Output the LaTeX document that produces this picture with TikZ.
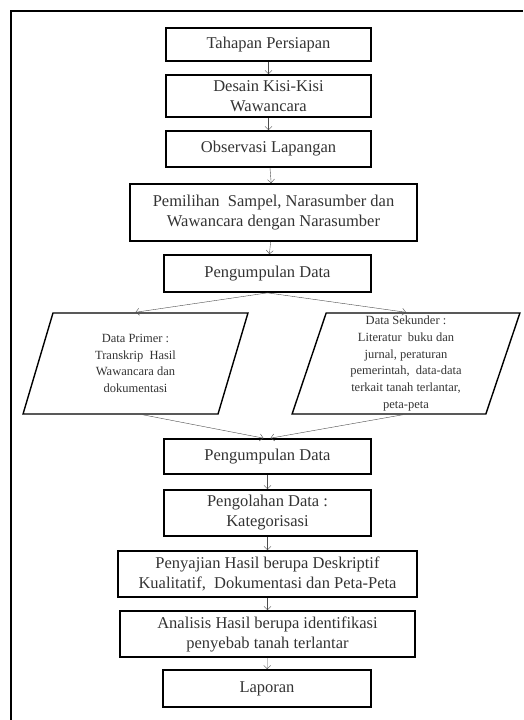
\documentclass[tikz,border=0pt]{standalone}
\usepackage{fontspec}
\setmainfont{Liberation Serif}
\usepackage{tikz}
\usetikzlibrary{positioning,calc}
\usetikzlibrary{arrows.meta, shapes.geometric}
\tikzstyle{process} = [rectangle, draw=black, line width=1.7pt, text centered, align=center, font=\fontsize{16.5}{20}\selectfont, inner sep=0pt, text=black!80]
\tikzstyle{io} = [trapezium, trapezium left angle=76, trapezium right angle=104, trapezium stretches=true, minimum height=101pt, draw=black, line width=1.4pt, text centered, align=center, font=\fontsize{12.5}{16.8}\selectfont, inner sep=0pt, text=black!80]
\tikzstyle{arrow} = [thin, black!70, -{Straight Barb[length=3.5pt,width=7pt]}]

\begin{document}
\begin{tikzpicture}[x=1pt,y=-1pt]
\useasboundingbox (0,0) rectangle (523,720);
\draw[line width=2pt] (11,720) -- (11,11) -- (523,11);
% steps before the data
\node[process, minimum width=205pt, minimum height=33pt] (persiapan) at (268.5,44.5) {Tahapan Persiapan};
\node[process, minimum width=205pt, minimum height=42pt] (kisi) at (268.5,96) {Desain Kisi-Kisi\\Wawancara};
\node[process, minimum width=205pt, minimum height=36pt] (observasi) at (268.5,149) {Observasi Lapangan};
\node[process, minimum width=287pt, minimum height=57pt] (sampel) at (273.5,212.5) {Pemilihan\ \ Sampel, Narasumber dan\\Wawancara dengan Narasumber};
\node[process, minimum width=207pt, minimum height=37pt] (kumpul) at (267.5,273.5) {Pengumpulan Data};
% the two kinds of data
\node[io, minimum width=225pt] (primer) at (135.5,363.5) {Data Primer :\\Transkrip\ \ Hasil\\Wawancara dan\\dokumentasi};
\node[io, minimum width=228pt] (sekunder) at (406,363.5) {Data Sekunder :\\Literatur\ \ buku dan\\jurnal, peraturan\\pemerintah,\ \ data-data\\terkait tanah terlantar,\\peta-peta};
% steps after the data
\node[process, minimum width=207pt, minimum height=35pt] (kumpul2) at (267.5,456.5) {Pengumpulan Data};
\node[process, minimum width=207pt, minimum height=46pt] (olah) at (267.5,513) {Pengolahan Data :\\Kategorisasi};
\node[process, minimum width=299pt, minimum height=46pt] (saji) at (267.5,574) {Penyajian Hasil berupa Deskriptif\\Kualitatif,\ \ Dokumentasi dan Peta-Peta};
\node[process, minimum width=295pt, minimum height=46pt] (analisis) at (267.5,634) {Analisis Hasil berupa identifikasi\\penyebab tanah terlantar};
\node[process, minimum width=208pt, minimum height=37pt] (laporan) at (267,688.5) {Laporan};
% connectors
\draw[arrow] (persiapan) -- (kisi);
\draw[arrow] (kisi) -- (observasi);
\draw[arrow] (observasi) -- (sampel);
\draw[arrow] (sampel) -- (kumpul);
\draw[arrow] (kumpul.south) -- (primer.north);
\draw[arrow] (kumpul.south) -- (sekunder.north);
\draw[arrow] ($(primer.south)+(7,0)$) -- ($(kumpul2.north)+(-4,0)$);
\draw[arrow] ($(sekunder.south)+(-3,0)$) -- ($(kumpul2.north)+(3,0)$);
\draw[arrow] (kumpul2) -- (olah);
\draw[arrow] (olah) -- (saji);
\draw[arrow] (saji) -- (analisis);
\draw[arrow] (analisis) -- (laporan);
\end{tikzpicture}
\end{document}
